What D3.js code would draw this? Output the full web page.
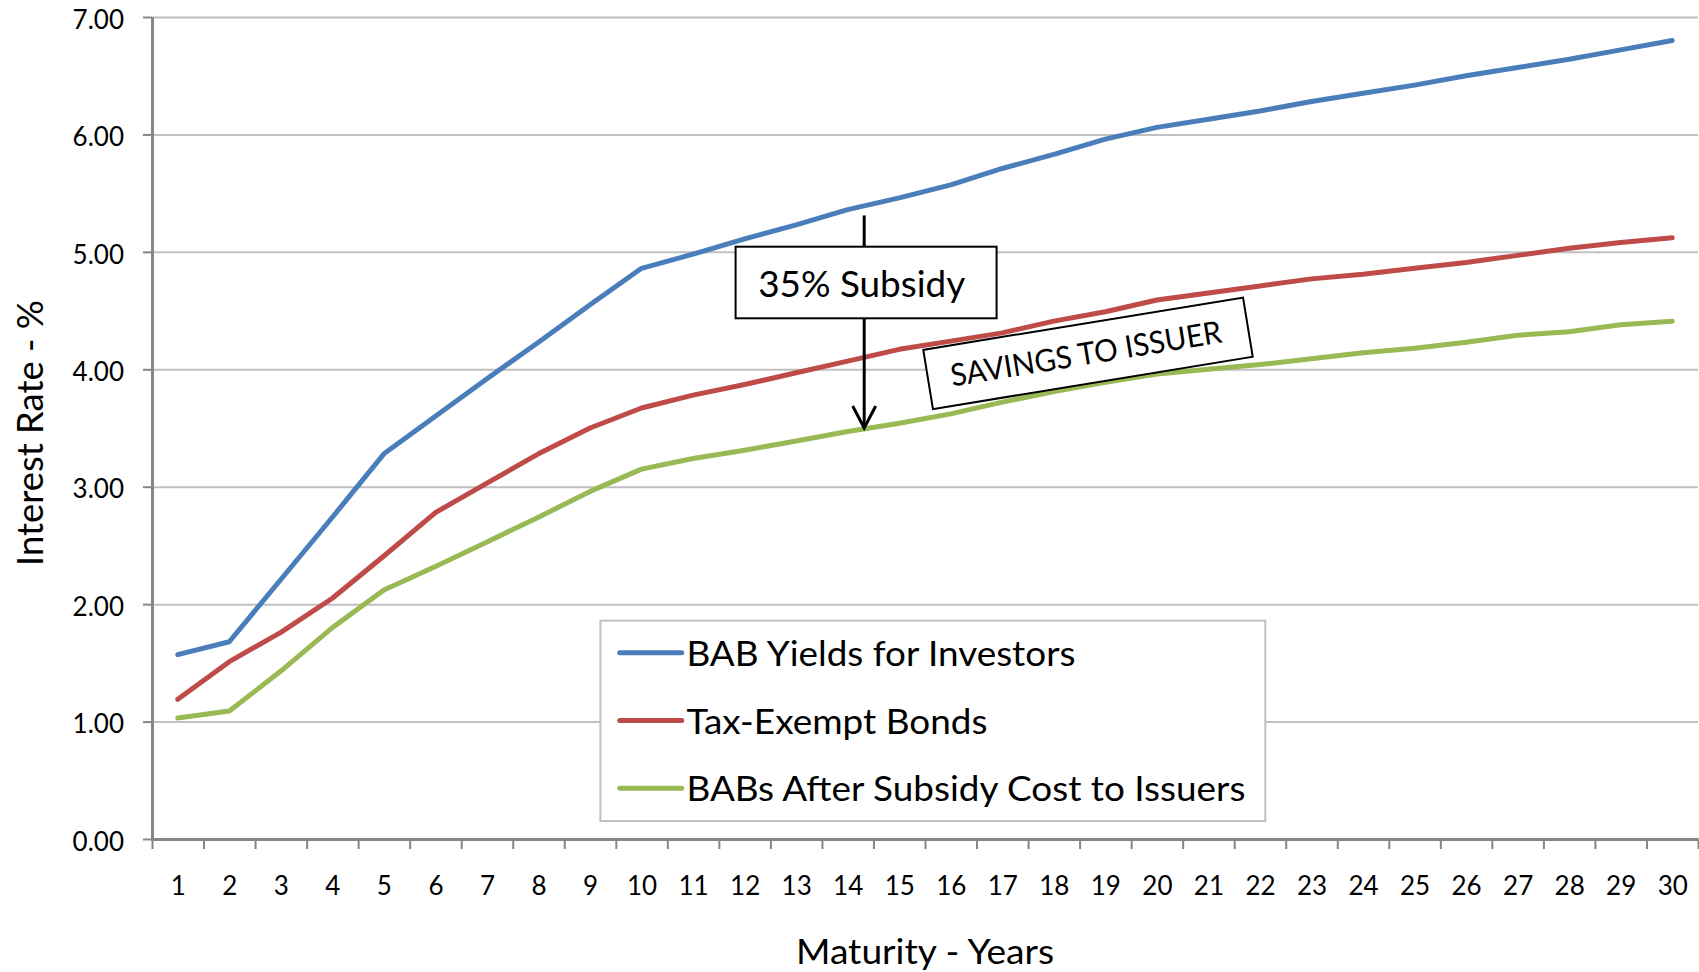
<!DOCTYPE html>
<html>
<head>
<meta charset="utf-8">
<script src="https://cdn.jsdelivr.net/npm/d3@7"></script>
<style>
  html, body { margin: 0; padding: 0; background: #fff; }
  svg { display: block; font-family: Lato, "Open Sans", "Liberation Sans", sans-serif; }
</style>
</head>
<body>
<svg id="chart" width="1699" height="972"></svg>
<script>
// Maturity in years (x categories)
const maturities = [1, 2, 3, 4, 5, 6, 7, 8, 9, 10, 11, 12, 13, 14, 15,
                    16, 17, 18, 19, 20, 21, 22, 23, 24, 25, 26, 27, 28, 29, 30];

// Yield curves, percent
const babYields = [1.57, 1.68, 2.21, 2.74, 3.28, 3.60, 3.92, 4.23, 4.55, 4.86,
                   4.98, 5.11, 5.23, 5.36, 5.46, 5.57, 5.71, 5.83, 5.96, 6.06,
                   6.13, 6.20, 6.28, 6.35, 6.42, 6.50, 6.57, 6.64, 6.72, 6.80];
const taxExempt = [1.19, 1.51, 1.76, 2.05, 2.41, 2.78, 3.03, 3.28, 3.50, 3.67,
                   3.78, 3.87, 3.97, 4.07, 4.17, 4.24, 4.31, 4.41, 4.49, 4.59,
                   4.65, 4.71, 4.77, 4.81, 4.86, 4.91, 4.97, 5.03, 5.08, 5.12];
const afterSubsidy = [1.03, 1.09, 1.43, 1.80, 2.12, 2.32, 2.53, 2.74, 2.96, 3.15,
                      3.24, 3.31, 3.39, 3.47, 3.54, 3.62, 3.72, 3.81, 3.89, 3.96,
                      4.00, 4.04, 4.09, 4.14, 4.18, 4.23, 4.29, 4.32, 4.38, 4.41];

const seriesNames = ["BAB Yields for Investors", "Tax-Exempt Bonds", "BABs After Subsidy Cost to Issuers"];
const seriesColors = ["#4a7ebb", "#be4b48", "#98b954"];
const yTicks = [0, 1, 2, 3, 4, 5, 6, 7];
const yTitle = "Interest Rate - %";
const xTitle = "Maturity - Years";
const subsidyNote = "35% Subsidy";
const savingsNote = "SAVINGS TO ISSUER";
// Subsidy arrow: maturity position and the rates it spans
const subsidyArrow = { at: 14.32, from: 5.31, to: 3.50 };

const svg = d3.select("#chart");
const plot = { left: 152, right: 1698, top: 17, bottom: 839 };

const x = d3.scaleLinear().domain([0.5, 30.5]).range([plot.left, plot.right]);
const y = d3.scaleLinear().domain([0, 7]).range([plot.bottom, plot.top]);

const axisGrey = "#868686";
const gridGrey = "#c0c0c0";

// Horizontal gridlines
svg.append("g")
  .attr("transform", `translate(${plot.left},0)`)
  .call(d3.axisLeft(y).tickValues(yTicks.slice(1)).tickSize(-(plot.right - plot.left)).tickFormat(""))
  .call(g => g.select(".domain").remove())
  .call(g => g.selectAll("line").attr("stroke", gridGrey).attr("stroke-width", 2));

// Y axis with labels
const yAxis = svg.append("g")
  .attr("transform", `translate(${plot.left},0)`)
  .call(d3.axisLeft(y).tickValues(yTicks).tickSize(9).tickSizeOuter(0).tickPadding(19)
        .tickFormat(d3.format(".2f")));
yAxis.attr("font-family", null).attr("font-size", 26);
yAxis.select(".domain").attr("stroke", axisGrey).attr("stroke-width", 3);
yAxis.selectAll(".tick line").attr("stroke", axisGrey).attr("stroke-width", 2);
yAxis.selectAll(".tick text").attr("fill", "#000").attr("dy", "0.43em");

// X axis: tick marks between categories
const boundaries = maturities.map(m => m - 0.5).concat([maturities[maturities.length - 1] + 0.5]);
const xAxis = svg.append("g")
  .attr("transform", `translate(0,${plot.bottom})`)
  .call(d3.axisBottom(x).tickValues(boundaries).tickSize(10).tickSizeOuter(0).tickFormat(""));
xAxis.select(".domain").attr("stroke", axisGrey).attr("stroke-width", 3);
xAxis.selectAll(".tick line").attr("stroke", axisGrey).attr("stroke-width", 2);

// X category labels
const xLabels = svg.append("g")
  .attr("transform", `translate(0,${plot.bottom})`)
  .call(d3.axisBottom(x).tickValues(maturities).tickSize(0).tickPadding(38).tickFormat(d3.format("d")));
xLabels.attr("font-family", null).attr("font-size", 26);
xLabels.select(".domain").remove();
xLabels.selectAll("text").attr("fill", "#000");

// Axis titles
svg.append("text")
  .attr("transform", `translate(43,433) rotate(-90)`)
  .attr("text-anchor", "middle")
  .attr("font-size", 36)
  .attr("textLength", 266)
  .attr("lengthAdjust", "spacingAndGlyphs")
  .text(yTitle);

svg.append("text")
  .attr("x", 925).attr("y", 964)
  .attr("text-anchor", "middle")
  .attr("font-size", 35)
  .attr("textLength", 258)
  .attr("lengthAdjust", "spacingAndGlyphs")
  .text(xTitle);

// Series lines
const series = [babYields, taxExempt, afterSubsidy];
const line = d3.line()
  .x((d, i) => x(maturities[i]))
  .y(d => y(d));

svg.append("g")
  .selectAll("path")
  .data(series)
  .join("path")
  .attr("d", line)
  .attr("fill", "none")
  .attr("stroke", (d, i) => seriesColors[i])
  .attr("stroke-width", 5)
  .attr("stroke-linejoin", "round")
  .attr("stroke-linecap", "round");

// Subsidy arrow with its label box
const ax = x(subsidyArrow.at);
const ayTop = y(subsidyArrow.from);
const ayTip = y(subsidyArrow.to);
const note = svg.append("g");
note.append("line")
  .attr("x1", ax).attr("x2", ax)
  .attr("y1", ayTop).attr("y2", ayTip - 1)
  .attr("stroke", "#000").attr("stroke-width", 3);
note.append("path")
  .attr("d", `M${ax - 11.5},${ayTip - 22}L${ax},${ayTip}L${ax + 11.5},${ayTip - 22}`)
  .attr("fill", "none").attr("stroke", "#000").attr("stroke-width", 3)
  .attr("stroke-linejoin", "miter");
note.append("rect")
  .attr("x", ax - 128.6).attr("y", 246.7)
  .attr("width", 261).attr("height", 71.6)
  .attr("fill", "#fff").attr("stroke", "#000").attr("stroke-width", 2);
note.append("text")
  .attr("x", ax - 106).attr("y", 296.5)
  .attr("font-size", 37)
  .attr("textLength", 207)
  .attr("lengthAdjust", "spacingAndGlyphs")
  .text(subsidyNote);

// Savings label, tilted along the curves
const savings = svg.append("g")
  .attr("transform", "translate(1088,353.3) rotate(-9.28)");
savings.append("rect")
  .attr("x", -162).attr("y", -30)
  .attr("width", 324).attr("height", 60)
  .attr("fill", "#fff").attr("stroke", "#000").attr("stroke-width", 2);
savings.append("text")
  .attr("x", -2).attr("y", 11)
  .attr("text-anchor", "middle")
  .attr("font-size", 31)
  .attr("textLength", 274)
  .attr("lengthAdjust", "spacingAndGlyphs")
  .text(savingsNote);

// Legend
const legend = svg.append("g").attr("transform", "translate(600.4,620.7)");
legend.append("rect")
  .attr("width", 664.9).attr("height", 200.3)
  .attr("fill", "#fff").attr("stroke", gridGrey).attr("stroke-width", 2);
const legendWidths = [389, 301, 559];
const rows = legend.selectAll("g.row")
  .data(seriesNames)
  .join("g")
  .attr("class", "row")
  .attr("transform", (d, i) => `translate(0,${32 + i * 67.8})`);
rows.append("line")
  .attr("x1", 19.3).attr("x2", 81.3)
  .attr("stroke", (d, i) => seriesColors[i])
  .attr("stroke-width", 5)
  .attr("stroke-linecap", "round");
rows.append("text")
  .attr("x", 86).attr("y", 13)
  .attr("font-size", 34)
  .attr("textLength", (d, i) => legendWidths[i])
  .attr("lengthAdjust", "spacingAndGlyphs")
  .text(d => d);
</script>
</body>
</html>
